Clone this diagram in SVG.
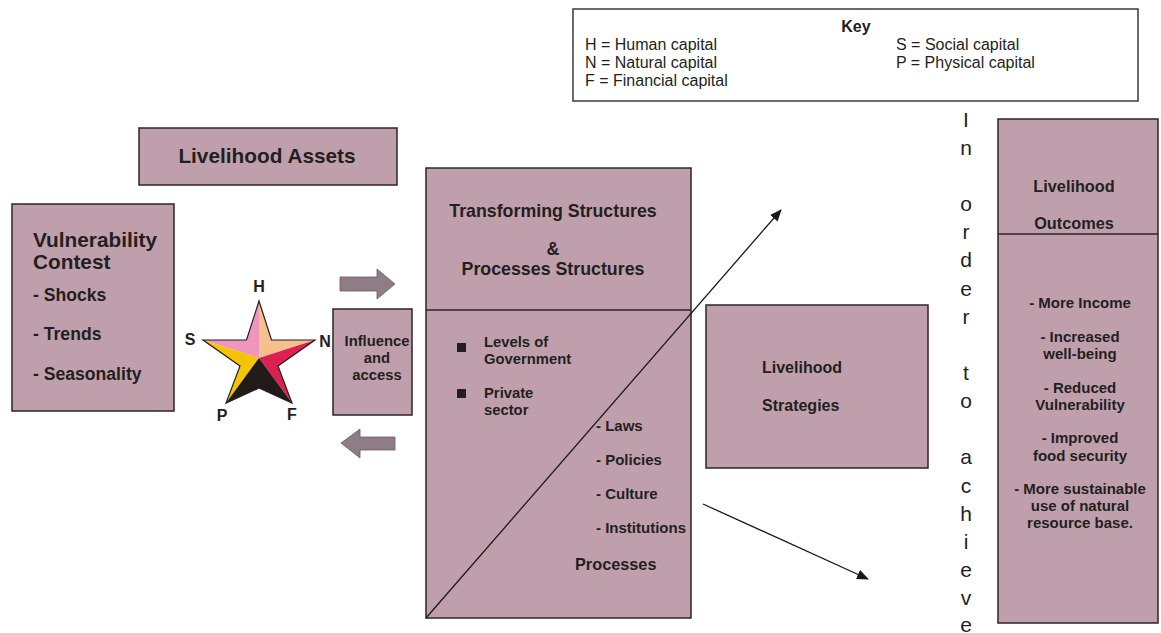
<svg xmlns="http://www.w3.org/2000/svg" width="1161" height="633" viewBox="0 0 1161 633">
<style>
.box{fill:#C09FAD;stroke:#2b2628;stroke-width:1.5}
.t{font-family:"Liberation Sans",Arial,sans-serif;fill:#231F20}
.b{font-weight:bold}
.conn{stroke:#1a1a1a;stroke-width:1.3;fill:none}
.blk{fill:#8E7C86;stroke:#6b5a63;stroke-width:0.8}
</style>
<defs>
<marker id="ah" markerWidth="12" markerHeight="10" refX="11" refY="5" orient="auto" markerUnits="userSpaceOnUse">
<path d="M0,0 L12,5 L0,10 Z" fill="#1a1a1a"/>
</marker>
</defs>
<rect width="1161" height="633" fill="#ffffff"/>

<g id="key">
<rect x="573" y="9" width="565" height="92" fill="#ffffff" stroke="#3a3a3a" stroke-width="1.5"/>
<text class="t b" x="856" y="32" font-size="16" text-anchor="middle">Key</text>
<text class="t" x="585" y="50" font-size="16">H = Human capital</text>
<text class="t" x="585" y="68" font-size="16">N = Natural capital</text>
<text class="t" x="585" y="86" font-size="16">F = Financial capital</text>
<text class="t" x="896" y="50" font-size="16">S = Social capital</text>
<text class="t" x="896" y="68" font-size="16">P = Physical capital</text>
</g>

<g id="livelihood-assets">
<rect class="box" x="139" y="128" width="258" height="57"/>
<text class="t b" x="267" y="163" font-size="20.8" text-anchor="middle">Livelihood Assets</text>
</g>

<g id="vulnerability">
<rect class="box" x="12" y="204" width="162" height="207"/>
<text class="t b" x="33" y="247" font-size="20.8">Vulnerability</text>
<text class="t b" x="33" y="269" font-size="20.8">Contest</text>
<text class="t b" x="33" y="301" font-size="17.6">- Shocks</text>
<text class="t b" x="33" y="340" font-size="17.6">- Trends</text>
<text class="t b" x="33" y="380" font-size="17.6">- Seasonality</text>
</g>

<g id="star">
<polygon points="259,358 259,301 246.5,340 203,340" fill="#EE96BE"/>
<polygon points="259,358 259,301 271.5,340 315,340" fill="#F5C08E"/>
<polygon points="259,358 203,340 240,366 226,403" fill="#F5C400"/>
<polygon points="259,358 315,340 278,366 292,403" fill="#DC2050"/>
<polygon points="259,358 226,403 259,388 292,403" fill="#201A18"/>
<polygon points="259,301 271.5,340 315,340 278,366 292,403 259,388 226,403 240,366 203,340 246.5,340" fill="none" stroke="#231F20" stroke-width="1.2" stroke-linejoin="miter"/>
<text class="t b" x="259" y="292" font-size="16" text-anchor="middle">H</text>
<text class="t b" x="190" y="345" font-size="16" text-anchor="middle">S</text>
<text class="t b" x="325" y="347" font-size="16" text-anchor="middle">N</text>
<text class="t b" x="222" y="421" font-size="16" text-anchor="middle">P</text>
<text class="t b" x="292" y="420" font-size="16" text-anchor="middle">F</text>
</g>

<g id="influence">
<rect class="box" x="333" y="309" width="79" height="106"/>
<text class="t b" x="377" y="346" font-size="14.8" text-anchor="middle">Influence</text>
<text class="t b" x="377" y="363" font-size="14.8" text-anchor="middle">and</text>
<text class="t b" x="377" y="380" font-size="14.8" text-anchor="middle">access</text>
</g>

<g id="transforming">
<rect class="box" x="426" y="168" width="265" height="450"/>
<line x1="426" y1="310" x2="691" y2="310" stroke="#2b2628" stroke-width="1.5"/>
<text class="t b" x="553" y="217" font-size="17.8" text-anchor="middle">Transforming Structures</text>
<text class="t b" x="553" y="255" font-size="17.8" text-anchor="middle">&amp;</text>
<text class="t b" x="553" y="275" font-size="17.8" text-anchor="middle">Processes Structures</text>
<rect x="457" y="343" width="9" height="9" fill="#231F20"/>
<rect x="457" y="389" width="9" height="9" fill="#231F20"/>
<text class="t b" x="484" y="347" font-size="14.8">Levels of</text>
<text class="t b" x="484" y="364" font-size="14.8">Government</text>
<text class="t b" x="484" y="398" font-size="14.8">Private</text>
<text class="t b" x="484" y="415" font-size="14.8">sector</text>
<text class="t b" x="596" y="431" font-size="15">- Laws</text>
<text class="t b" x="596" y="465" font-size="15">- Policies</text>
<text class="t b" x="596" y="499" font-size="15">- Culture</text>
<text class="t b" x="596" y="533" font-size="15">- Institutions</text>
<text class="t b" x="575" y="570" font-size="16.3">Processes</text>
</g>

<g id="strategies">
<rect class="box" x="706" y="305" width="222" height="163"/>
<text class="t b" x="762" y="373" font-size="16">Livelihood</text>
<text class="t b" x="762" y="411" font-size="16">Strategies</text>
</g>

<g id="outcomes">
<rect class="box" x="998" y="119" width="160" height="504"/>
<line x1="998" y1="234" x2="1158" y2="234" stroke="#2b2628" stroke-width="1.5"/>
<text class="t b" x="1074" y="192" font-size="16.3" text-anchor="middle">Livelihood</text>
<text class="t b" x="1074" y="229" font-size="16.3" text-anchor="middle">Outcomes</text>
<text class="t b" x="1080" y="308" font-size="15" text-anchor="middle">- More Income</text>
<text class="t b" x="1080" y="342" font-size="15" text-anchor="middle">- Increased</text>
<text class="t b" x="1080" y="359" font-size="15" text-anchor="middle">well-being</text>
<text class="t b" x="1080" y="393" font-size="15" text-anchor="middle">- Reduced</text>
<text class="t b" x="1080" y="410" font-size="15" text-anchor="middle">Vulnerability</text>
<text class="t b" x="1080" y="443" font-size="15" text-anchor="middle">- Improved</text>
<text class="t b" x="1080" y="461" font-size="15" text-anchor="middle">food security</text>
<text class="t b" x="1080" y="494" font-size="15" text-anchor="middle">- More sustainable</text>
<text class="t b" x="1080" y="511" font-size="15" text-anchor="middle">use of natural</text>
<text class="t b" x="1080" y="528" font-size="15" text-anchor="middle">resource base.</text>
</g>

<g id="vertical-text">
<text class="t" font-size="21" text-anchor="middle"><tspan x="966" y="127">I</tspan><tspan x="966" y="155">n</tspan><tspan x="966" y="211">o</tspan><tspan x="966" y="239">r</tspan><tspan x="966" y="267">d</tspan><tspan x="966" y="296">e</tspan><tspan x="966" y="324">r</tspan><tspan x="966" y="380">t</tspan><tspan x="966" y="408">o</tspan><tspan x="966" y="464">a</tspan><tspan x="966" y="493">c</tspan><tspan x="966" y="521">h</tspan><tspan x="966" y="549">i</tspan><tspan x="966" y="577">e</tspan><tspan x="966" y="605">v</tspan><tspan x="966" y="632">e</tspan></text>
</g>

<g id="connectors">
<polygon class="blk" points="340,277 377,277 377,269 395,284 377,299 377,291 340,291"/>
<polygon class="blk" points="395,437 360,437 360,429 341,443 360,458 360,450 395,450"/>
<line class="conn" x1="426" y1="618" x2="781" y2="210" marker-end="url(#ah)"/>
<line class="conn" x1="703" y1="504" x2="868" y2="579" marker-end="url(#ah)"/>
</g>
</svg>
